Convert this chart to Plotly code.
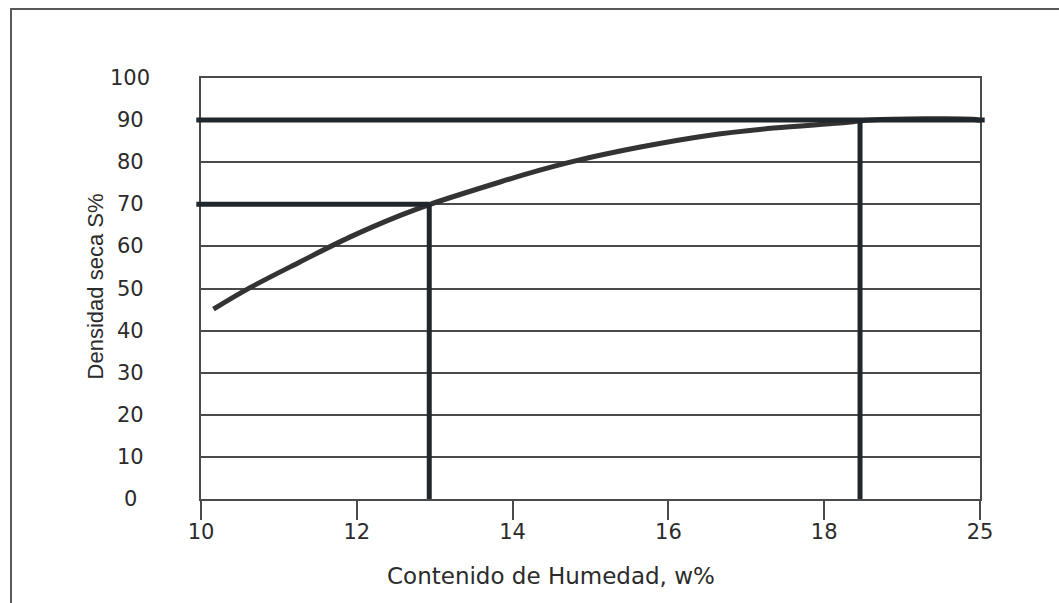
import plotly.graph_objects as go

# ---- data ----
w_curve = [10.16, 10.63, 11.27, 11.91, 12.55, 12.94, 13.84, 14.35, 14.78, 15.64, 16.49, 17.35, 18.20, 18.60, 19.30, 19.90, 20.05]
s_curve = [45.1, 50.2, 56.3, 62.2, 67.3, 70.0, 75.3, 78.1, 80.2, 83.6, 86.3, 88.1, 89.3, 90.0, 90.3, 90.2, 89.8]

ref_w = [12.93, 18.46]     # humidity readings (axis position)
ref_s = [70, 90]           # dry density readings

x_tickvals = [10, 12, 14, 16, 18, 20]
x_ticktext = ["10", "12", "14", "16", "18", "25"]
y_ticks = [0, 10, 20, 30, 40, 50, 60, 70, 80, 90, 100]

x_title = "Contenido de Humedad, w%"
y_title = "Densidad seca S%"

# ---- style ----
L, R, T, B = 201, 79, 78, 104
W, H = 1059, 603
pw = W - L - R
ph = H - T - B
ink = "#1f262c"
grid = "#4a4a4a"
txt = "#2b2b2b"
tick_font = dict(family="DejaVu Sans", size=21, color=txt)

fig = go.Figure()

fig.add_trace(go.Scatter(
    x=w_curve, y=s_curve, mode="lines",
    line=dict(color="#333333", width=5, shape="spline", smoothing=1.0),
    hoverinfo="skip", showlegend=False,
))

shapes = []
# reading lines
for wv, sv, full in zip(ref_w, ref_s, [False, True]):
    shapes.append(dict(type="line", xref="x", yref="y", x0=wv, x1=wv, y0=0, y1=sv,
                       line=dict(color=ink, width=5)))
    shapes.append(dict(type="line", xref="paper", yref="y", x0=-0.006,
                       x1=(1.006 if full else (wv - 10) / 10), y0=sv, y1=sv,
                       line=dict(color=ink, width=5)))

# outer frame
shapes.append(dict(type="rect", xref="paper", yref="paper",
                   x0=(11 - L) / pw, x1=1.2, y0=-0.4, y1=(H - B - 9) / ph,
                   line=dict(color="#5a5a5a", width=2), layer="below"))

annotations = []
for v in y_ticks:
    annotations.append(dict(text=str(v), xref="paper", yref="y", x=(130 - L) / pw, y=v,
                            xanchor="center", yanchor="middle", showarrow=False, font=tick_font))
annotations.append(dict(text=y_title, xref="paper", yref="paper", x=(95 - L) / pw, y=0.505,
                        textangle=-90, xanchor="center", yanchor="middle", showarrow=False,
                        font=dict(family="Liberation Sans", size=22, color=txt)))
annotations.append(dict(text=x_title, xref="paper", yref="paper", x=(551 - L) / pw, y=(H - B - 576) / ph,
                        xanchor="center", yanchor="middle", showarrow=False,
                        font=dict(family="DejaVu Sans", size=23, color=txt)))

fig.update_layout(
    width=W, height=H,
    margin=dict(l=L, r=R, t=T, b=B),
    paper_bgcolor="white", plot_bgcolor="white",
    shapes=shapes, annotations=annotations,
    showlegend=False,
    xaxis=dict(range=[10, 20], tickvals=x_tickvals, ticktext=x_ticktext,
               ticks="outside", ticklen=19, tickwidth=2, tickcolor=grid,
               showline=True, linecolor=grid, linewidth=2, mirror=True,
               showgrid=False, zeroline=False, tickfont=tick_font, ticklabelstandoff=-6),
    yaxis=dict(range=[0, 100], tickvals=y_ticks, showticklabels=False,
               showgrid=True, gridcolor=grid, gridwidth=1.5,
               showline=True, linecolor=grid, linewidth=2, mirror=True,
               zeroline=False, ticks=""),
)

fig.write_html("out.html", config={"displayModeBar": False},
               post_script="document.body.style.margin='0px';")
